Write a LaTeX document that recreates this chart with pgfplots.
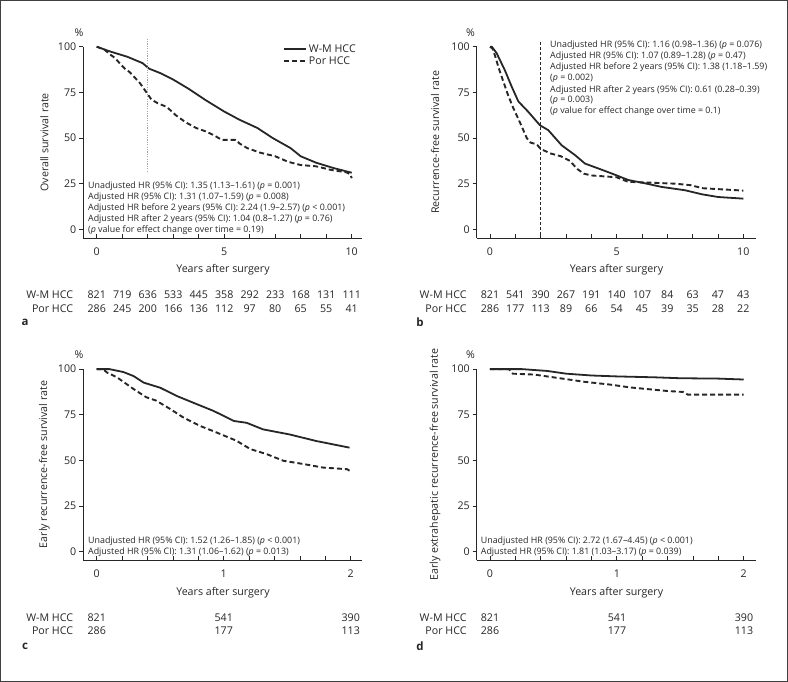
\documentclass[border=0pt]{standalone}
\usepackage{fontspec}
\setmainfont{Open Sans}
\usepackage{pgfplots}
\pgfplotsset{compat=1.18}

\definecolor{ink}{HTML}{262626}
\newcommand\lab{\fontsize{10.7}{12.5}\selectfont}
\newcommand\ann{\fontsize{8.9}{10.5}\selectfont}

\pgfplotsset{
  km/.style={
    scale only axis, width=279bp, height=191.2bp,
    anchor=south west,
    axis lines=left, axis line style={ink, line width=0.8bp, -},
    ymin=-4.7, ymax=100, ytick={0,25,50,75,100},
    tick align=inside,
    major tick length=4bp, minor tick length=4bp,
    every tick/.style={ink, line width=0.8bp},
    y tick style={xshift=-4bp},
    /pgf/number format/assume math mode=true,
    ticklabel style={font=\lab, text=ink},
    yticklabel style={xshift=-3.5bp},
    xticklabel style={yshift=-6.3bp},
    clip=false,
  },
  wm/.style={ink, line width=1.8bp, line join=round},
  por/.style={ink, line width=1.9bp, dash pattern=on 5bp off 3bp},
}

\begin{document}
\begin{tikzpicture}[x=1bp, y=-1bp]
\draw[line width=1.2bp, black!75] (0.6,0.6) rectangle (787.4,681.4);

% ---- a ----
\begin{axis}[km, at={(83.3bp,-237.9bp)}, xmin=-0.525, xmax=10.416,
  xtick={0,5,10}, minor x tick num=4,
  legend style={at={(axis cs:7.3,102.3)}, anchor=north west, draw=none, fill=none,
    font=\lab, text=ink, row sep=-1.5bp, inner sep=0pt},
  legend cell align=left,
  legend image code/.code={\draw[#1] (0bp,0bp) -- (22bp,0bp);}]
\addplot[wm] coordinates {(0,100) (0.5,97.5) (1.2,94.5) (1.8,91) (2.05,88) (2.5,85.5) (3.0,82) (3.6,77) (4.3,70.5) (5.0,64.5) (5.6,60) (6.3,55.5) (6.9,50) (7.6,44.5) (8.0,40) (8.6,36.5) (9.3,33.5) (10,31)};
\addlegendentry{W-M HCC}
\addplot[por] coordinates {(0,100) (0.3,98.5) (0.5,96) (0.7,94) (0.9,91) (1.1,88) (1.3,86) (1.5,83) (1.7,80) (1.85,77) (2.0,74) (2.15,71) (2.4,69) (2.75,67) (3.1,62.5) (3.5,58.5) (3.9,55.5) (4.3,53.5) (4.6,51.5) (4.9,49) (5.45,49) (5.6,47) (5.9,44.5) (6.4,42) (7.0,40) (7.5,37) (8.0,35.2) (8.6,34.5) (9.2,32.5) (9.8,31.2) (9.95,30) (10,28)};
\addlegendentry{Por HCC}
\addplot[gray!70, line width=0.9bp, dash pattern=on 1.2bp off 1.2bp, forget plot] coordinates {(2,104.4) (2,31.6)};
\end{axis}

% ---- b ----
\begin{axis}[km, at={(476.7bp,-237.9bp)}, xmin=-0.525, xmax=10.49,
  xtick={0,5,10}, minor x tick num=4]
\addplot[wm] coordinates {(0,100) (0.07,100) (0.26,96.5) (0.59,87) (0.86,78) (1.12,70) (1.5,64.5) (1.97,57) (2.3,54.3) (2.83,46) (3.36,40.6) (3.75,36) (4.28,33.3) (4.8,30.6) (5.46,27) (6.12,25.2) (6.78,23.2) (7.7,21.4) (8.36,19.2) (9.0,17.7) (10,16.8)};
\addplot[por] coordinates {(0,100) (0.1,99) (0.2,95) (0.35,88) (0.5,82) (0.7,74) (0.9,67) (1.2,58) (1.45,50) (1.6,47.5) (1.85,46.5) (2.0,44) (2.4,41.5) (2.8,40) (3.15,37.5) (3.45,33) (3.7,30.5) (4.0,29.5) (5.0,28.5) (5.45,26) (6.4,25.5) (7.3,25) (7.9,24.2) (8.4,22.5) (10,21.2)};
\addplot[ink, line width=0.8bp, dash pattern=on 3bp off 2bp] coordinates {(2,102.7) (2,-4.7)};
\end{axis}

% ---- c ----
\begin{axis}[km, at={(83.3bp,-560.3bp)}, xmin=-0.1055, xmax=2.091,
  xtick={0,1,2}, minor x tick num=4]
\addplot[wm] coordinates {(0,100) (0.1,100) (0.21,98.4) (0.29,96.2) (0.37,92.6) (0.5,89.8) (0.63,85.3) (0.76,81.6) (0.92,77.1) (1.08,71.6) (1.18,70.6) (1.31,67) (1.52,64.2) (1.73,60.6) (1.99,57)};
\addplot[por] coordinates {(0,100) (0.05,100) (0.08,98.2) (0.16,95.5) (0.29,89.1) (0.39,84.6) (0.47,82.7) (0.58,78.1) (0.68,73.6) (0.81,69) (0.94,65.4) (1.1,60.8) (1.21,56.2) (1.34,53.4) (1.47,49.8) (1.63,48) (1.78,46.1) (1.97,45.2) (2.0,44)};
\end{axis}

% ---- d ----
\begin{axis}[km, at={(476.7bp,-560.3bp)}, xmin=-0.1047, xmax=2.0945,
  xtick={0,1,2}, minor x tick num=4]
\addplot[wm] coordinates {(0,100) (0.25,100) (0.45,99) (0.6,97.5) (0.8,96.5) (1.0,96) (1.3,95.5) (1.5,95) (1.8,94.8) (2,94.3)};
\addplot[por] coordinates {(0,100) (0.15,100) (0.18,97.5) (0.35,97) (0.5,95.5) (0.75,93) (0.95,91.5) (1.1,90) (1.25,89) (1.4,88) (1.52,87.5) (1.56,86) (2,86)};
\end{axis}

% ---- text around the axes ----
\begin{scope}[every node/.style={font=\lab, text=ink}]
  % percent signs
  \node at (79,33) {\%};   \node at (470.5,33) {\%};
  \node at (79,355) {\%};  \node at (470.5,355) {\%};
  % y labels
  \node[rotate=90] at (44.3,142.3) {Overall survival rate};
  \node[rotate=90] at (435,142.3) {Recurrence-free survival rate};
  \node[rotate=90] at (44.3,464.5) {Early recurrence-free survival rate};
  \node[rotate=90] at (435,464.5) {Early extrahepatic recurrence-free survival rate};
  % x labels
  \node at (223,270) {Years after surgery};
  \node at (616.5,270) {Years after surgery};
  \node at (223,592.3) {Years after surgery};
  \node at (616.5,592.3) {Years after surgery};
  % row labels
  \foreach \x/\y in {73.3/295, 466.7/295, 73.3/617.5, 466.7/617.5}{
    \node[anchor=east, inner sep=0] at (\x,\y) {W-M HCC};
    \node[anchor=east, inner sep=0] at (\x,\y+13.3) {Por HCC};
  }
  % numbers at risk
  \foreach \n [count=\i from 0] in {821,719,636,533,445,358,292,233,168,131,111}
    \node at (96.7+25.5*\i,295) {\n};
  \foreach \n [count=\i from 0] in {286,245,200,166,136,112,97,80,65,55,41}
    \node at (96.7+25.5*\i,308.3) {\n};
  \foreach \n [count=\i from 0] in {821,541,390,267,191,140,107,84,63,47,43}
    \node at (490+25.33*\i,295) {\n};
  \foreach \n [count=\i from 0] in {286,177,113,89,66,54,45,39,35,28,22}
    \node at (490+25.33*\i,308.3) {\n};
  \foreach \n [count=\i from 0] in {821,541,390}{
    \node at (96.7+127*\i,617.5) {\n};
    \node at (490+127*\i,617.5) {\n};}
  \foreach \n [count=\i from 0] in {286,177,113}{
    \node at (96.7+127*\i,630.8) {\n};
    \node at (490+127*\i,630.8) {\n};}
  % panel letters
  \node[font=\fontsize{11.5}{13}\selectfont\bfseries] at (25,322.7) {a};
  \node[font=\fontsize{11.5}{13}\selectfont\bfseries] at (420,322.7) {b};
  \node[font=\fontsize{11.5}{13}\selectfont\bfseries] at (25,646) {c};
  \node[font=\fontsize{11.5}{13}\selectfont\bfseries] at (420,646) {d};
\end{scope}

% ---- hazard ratio notes ----
\begin{scope}[every node/.style={font=\ann, text=ink, anchor=base west, inner sep=0}]
  \node at (88,188.4) {Unadjusted HR (95\% CI): 1.35 (1.13–1.61) (\textit{p} = 0.001)};
  \node at (88,199.1) {Adjusted HR (95\% CI): 1.31 (1.07–1.59) (\textit{p} = 0.008)};
  \node at (88,210.4) {Adjusted HR before 2 years (95\% CI): 2.24 (1.9–2.57) (\textit{p} < 0.001)};
  \node at (88,221.4) {Adjusted HR after 2 years (95\% CI): 1.04 (0.8–1.27) (\textit{p} = 0.76)};
  \node at (88,232.4) {(\textit{p} value for effect change over time = 0.19)};

  \node at (550,47.4) {Unadjusted HR (95\% CI): 1.16 (0.98–1.36) (\textit{p} = 0.076)};
  \node at (550,58.4) {Adjusted HR (95\% CI): 1.07 (0.89–1.28) (\textit{p} = 0.47)};
  \node at (550,69.4) {Adjusted HR before 2 years (95\% CI): 1.38 (1.18–1.59)};
  \node at (550,80.8) {(\textit{p} = 0.002)};
  \node at (550,92.1) {Adjusted HR after 2 years (95\% CI): 0.61 (0.28–0.39)};
  \node at (550,102.8) {(\textit{p} = 0.003)};
  \node at (550,113.8) {(\textit{p} value for effect change over time = 0.1)};

  \node at (88,543.8) {Unadjusted HR (95\% CI): 1.52 (1.26–1.85) (\textit{p} < 0.001)};
  \node at (88,554.1) {Adjusted HR (95\% CI): 1.31 (1.06–1.62) (\textit{p} = 0.013)};
  \node at (480.7,543.8) {Unadjusted HR (95\% CI): 2.72 (1.67–4.45) (\textit{p} < 0.001)};
  \node at (480.7,554.1) {Adjusted HR (95\% CI): 1.81 (1.03–3.17) (\textit{p} = 0.039)};
\end{scope}
\end{tikzpicture}
\end{document}
